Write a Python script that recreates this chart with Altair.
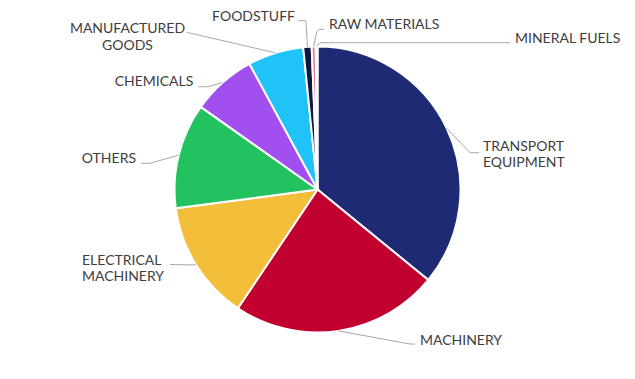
import math
import altair as alt
import pandas as pd

# ---- data (share of exports, %) ----
categories = ["TRANSPORT EQUIPMENT", "MACHINERY", "ELECTRICAL MACHINERY", "OTHERS",
              "CHEMICALS", "MANUFACTURED GOODS", "FOODSTUFF", "RAW MATERIALS", "MINERAL FUELS"]
values = [35.9, 23.5, 13.5, 11.9, 7.3, 6.3, 0.95, 0.45, 0.2]
colors = ["#1f2a74", "#c1002f", "#f3bf3b", "#22c35e", "#a24ff0", "#1fc3f8",
          "#0f1642", "#e07a92", "#9aa3b5"]
label_lines = [["TRANSPORT", "EQUIPMENT"], ["MACHINERY"], ["ELECTRICAL", "MACHINERY"],
               ["OTHERS"], ["CHEMICALS"], ["MANUFACTURED", "GOODS"], ["FOODSTUFF"],
               ["RAW MATERIALS"], ["MINERAL FUELS"]]

# ---- layout (pixels) ----
W, H = 619, 363
CX, CY, R = 309.5, 181.5, 143
FONT = "Lato"
FS = 14
LH = 16.5
# leader path points after the slice edge, and text anchor/alignment
leader_pts = [
    [(462, 144.7), (471, 144.7)],
    [(402, 336), (407, 336)],
    [(162, 256.5)],
    [(142, 155.3), (133, 155.3)],
    [(200.3, 78.7), (190.3, 78.7)],
    [(178.7, 24.3)],
    [(298, 12.7), (290, 12.7)],
    [(308.7, 23.7), (311.3, 21.3), (316, 21.3)],
    [(312, 34.7), (502, 34.7)],
]
text_anchor = [(475, 138.7, "left"), (412, 333, "left"), (74, 252.7, "left"),
               (128, 151.3, "right"), (185.3, 73.7, "right"), (119.5, 21, "center"),
               (287, 8.5, "right"), (321, 17, "left"), (507, 31.3, "left")]

df = pd.DataFrame({"category": categories, "value": values,
                   "order": list(range(len(categories)))})

# leader lines start at slice mid-angle on the pie edge
total = sum(values)
rows = []
cum = 0.0
for i, (cat, v) in enumerate(zip(categories, values)):
    mid = (cum + v / 2) / total * 2 * math.pi
    cum += v
    sx = CX + R * math.sin(mid)
    sy = CY - R * math.cos(mid)
    pts = [(sx, sy)] + leader_pts[i]
    for k, (px, py) in enumerate(pts):
        rows.append({"category": cat, "k": k, "px": px, "py": py})
lines_df = pd.DataFrame(rows)

trows = []
for i, cat in enumerate(categories):
    tx, ty, al = text_anchor[i]
    for j, t in enumerate(label_lines[i]):
        trows.append({"t": t, "tx": tx, "ty": ty + j * LH, "align": al})
text_df = pd.DataFrame(trows)

pie = alt.Chart(df).mark_arc(outerRadius=R, stroke="white", strokeWidth=2).encode(
    theta=alt.Theta("value:Q", stack=True),
    color=alt.Color("category:N", scale=alt.Scale(domain=categories, range=colors), legend=None),
    order=alt.Order("order:Q"),
    x=alt.value(CX),
    y=alt.value(CY),
)

leaders = alt.Chart(lines_df).mark_line(color="#a8a8a8", strokeWidth=1).encode(
    x=alt.X("px:Q", scale=None),
    y=alt.Y("py:Q", scale=None),
    detail="category:N",
    order="k:Q",
)

texts = []
for al in ["left", "right", "center"]:
    texts.append(
        alt.Chart(text_df[text_df["align"] == al]).mark_text(
            align=al, baseline="middle", font=FONT, fontSize=FS, color="#3d3d3d"
        ).encode(
            x=alt.X("tx:Q", scale=None),
            y=alt.Y("ty:Q", scale=None),
            text="t:N",
        )
    )

chart = alt.layer(pie, leaders, *texts).properties(
    width=W, height=H, autosize=alt.AutoSizeParams(type="none"), padding=0
).configure_view(stroke=None)

chart.save("out.html", embed_options={"renderer": "svg", "actions": False})
